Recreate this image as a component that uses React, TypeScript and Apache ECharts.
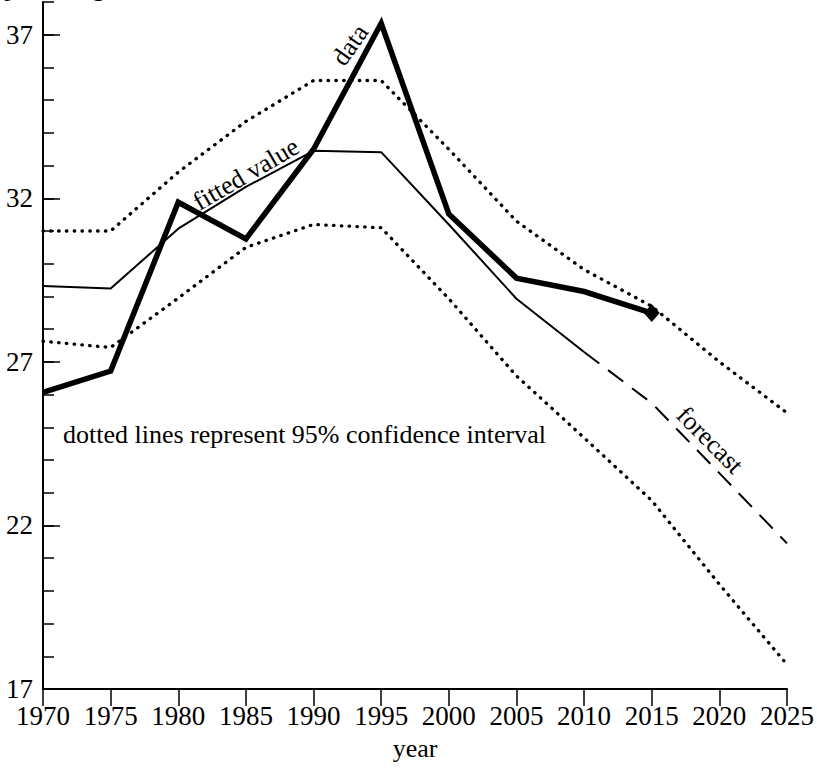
import React, { useEffect, useRef } from "react";
import * as echarts from "echarts";

const years = [1970, 1975, 1980, 1985, 1990, 1995, 2000, 2005, 2010, 2015, 2020, 2025];
const dataYears = [1970, 1975, 1980, 1985, 1990, 1995, 2000, 2005, 2010, 2015];
const dataValues = [26.07, 26.72, 31.88, 30.76, 33.5, 37.35, 31.52, 29.56, 29.15, 28.49];
const fittedYears = [1970, 1975, 1980, 1985, 1990, 1995, 2000, 2005, 2010];
const fittedValues = [29.32, 29.24, 31.07, 32.35, 33.45, 33.41, 31.2, 28.93, 27.3];
const forecastYears = [2010, 2015, 2020, 2025];
const forecastValues = [27.3, 25.74, 23.6, 21.45];
const upperCI = [31.0, 31.0, 32.8, 34.35, 35.6, 35.6, 33.5, 31.3, 29.82, 28.7, 27.0, 25.44];
const lowerCI = [27.63, 27.44, 28.95, 30.5, 31.2, 31.1, 28.93, 26.57, 24.68, 22.76, 20.2, 17.75];
const majorYTicks = [17, 22, 27, 32, 37];

const FONT = '"Liberation Serif", "Times New Roman", serif';

const pairs = (xs: number[], ys: number[]) => xs.map((x, i) => [x, ys[i]]);

export default function App() {
  const ref = useRef<HTMLDivElement>(null);
  useEffect(() => {
    if (!ref.current) return;
    const chart = echarts.init(ref.current, null, { renderer: "svg" });
    const dotted = { color: "#000", width: 3.3, type: [0.5, 7.3], cap: "round" };
    const lastIdx = dataYears.length - 1;
    const option: any = {
      animation: false,
      backgroundColor: "#fff",
      grid: { left: 43, right: 27, top: 2, bottom: 83 },
      xAxis: {
        type: "value",
        min: 1970,
        max: 2025,
        interval: 5,
        axisLine: { show: true, lineStyle: { color: "#000", width: 2 } },
        axisTick: { show: true, inside: false, length: 17, lineStyle: { color: "#000", width: 1.5 } },
        axisLabel: {
          color: "#000",
          fontSize: 27,
          fontFamily: FONT,
          margin: 13,
          formatter: (v: number) => String(v),
        },
        splitLine: { show: false },
        name: "year",
        nameLocation: "middle",
        nameGap: 46,
        nameTextStyle: { color: "#000", fontSize: 26, fontFamily: FONT },
      },
      yAxis: [
        {
          type: "value",
          position: "left",
          min: 17,
          max: 38,
          interval: 1,
          axisLine: { show: true, lineStyle: { color: "#000", width: 2 } },
          axisTick: { show: true, inside: true, length: 11, lineStyle: { color: "#000", width: 1.5 } },
          axisLabel: { show: false },
          splitLine: { show: false },
        },
        {
          type: "value",
          position: "left",
          min: 17,
          max: 38,
          interval: 5,
          axisLine: { show: false },
          axisTick: {
            show: true,
            inside: true,
            length: 17,
            customValues: majorYTicks,
            lineStyle: { color: "#000", width: 1.5 },
          },
          axisLabel: {
            color: "#000",
            fontSize: 27,
            fontFamily: FONT,
            margin: 10,
            customValues: majorYTicks,
            formatter: (v: number) => (majorYTicks.includes(v) ? String(v) : ""),
          },
          splitLine: { show: false },
        },
      ],
      graphic: [
        {
          type: "text",
          x: 4,
          y: -13,
          style: { text: "percentage", font: `26px ${FONT}`, fill: "#000", align: "left", verticalAlign: "middle" },
        },
        {
          type: "text",
          x: 63,
          y: 434,
          style: {
            text: "dotted lines represent 95% confidence interval",
            font: `26px ${FONT}`,
            fill: "#000",
            align: "left",
            verticalAlign: "middle",
          },
        },
        {
          type: "text",
          x: 350,
          y: 45,
          rotation: 0.96,
          style: { text: "data", font: `26px ${FONT}`, fill: "#000", align: "center", verticalAlign: "middle" },
        },
        {
          type: "text",
          x: 246,
          y: 174,
          rotation: 0.53,
          style: { text: "fitted value", font: `26px ${FONT}`, fill: "#000", align: "center", verticalAlign: "middle" },
        },
        {
          type: "text",
          x: 710,
          y: 440,
          rotation: -0.79,
          style: { text: "forecast", font: `26px ${FONT}`, fill: "#000", align: "center", verticalAlign: "middle" },
        },
      ],
      series: [
        {
          type: "line",
          yAxisIndex: 0,
          data: pairs(years, upperCI),
          symbol: "none",
          lineStyle: dotted,
          z: 2,
        },
        {
          type: "line",
          yAxisIndex: 0,
          data: pairs(years, lowerCI),
          symbol: "none",
          lineStyle: dotted,
          z: 2,
        },
        {
          type: "line",
          yAxisIndex: 0,
          data: pairs(fittedYears, fittedValues),
          symbol: "none",
          lineStyle: { color: "#000", width: 2 },
          z: 3,
        },
        {
          type: "line",
          yAxisIndex: 0,
          data: pairs(forecastYears, forecastValues),
          symbol: "none",
          lineStyle: { color: "#000", width: 2, type: [19, 11] },
          z: 3,
        },
        {
          type: "line",
          yAxisIndex: 0,
          data: pairs(dataYears, dataValues),
          symbol: "none",
          lineStyle: { color: "#000", width: 5.5, join: "miter" },
          z: 4,
        },
        {
          type: "scatter",
          yAxisIndex: 0,
          data: [[dataYears[lastIdx], dataValues[lastIdx]]],
          symbol: "diamond",
          symbolSize: [16, 18],
          itemStyle: { color: "#000", opacity: 1 },
          z: 5,
        },
      ],
    };
    chart.setOption(option);
    return () => chart.dispose();
  }, []);
  return (
    <div
      ref={ref}
      style={{ position: "fixed", left: 0, top: 0, width: 817, height: 772, background: "#fff" }}
    />
  );
}
